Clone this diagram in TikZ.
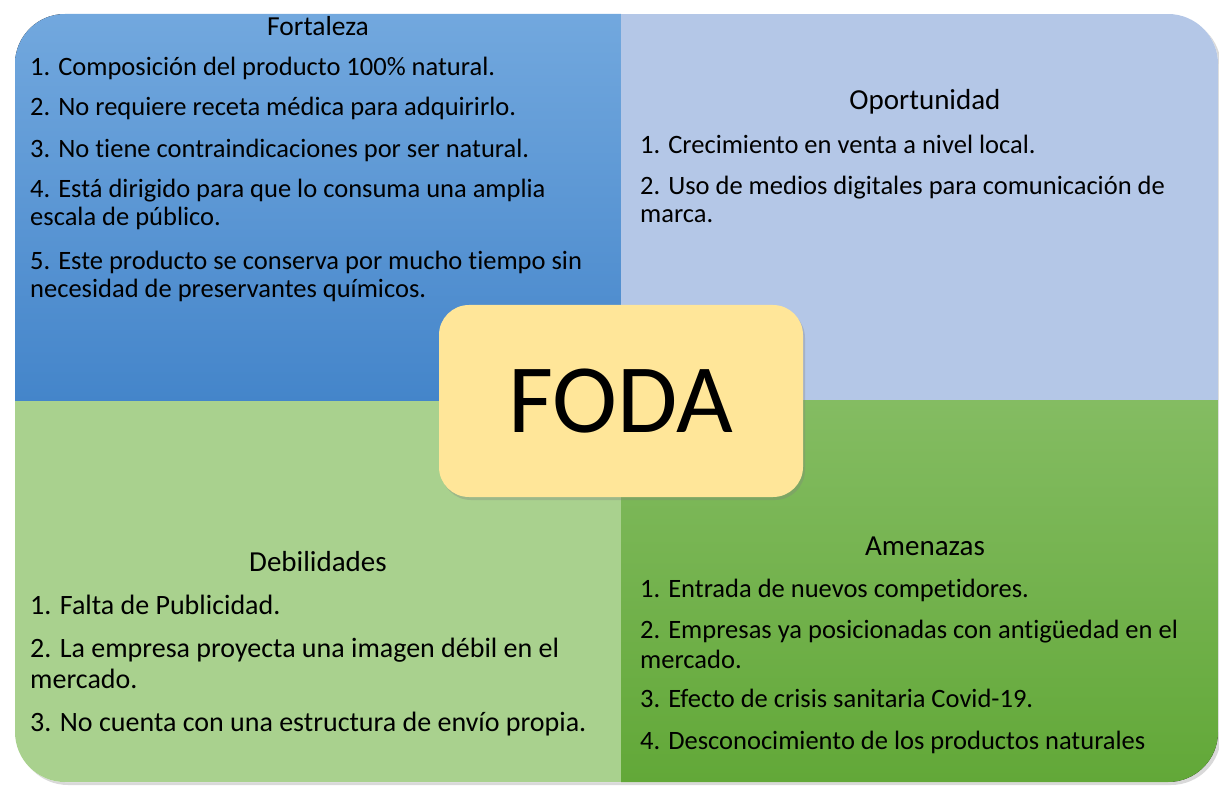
\documentclass[tikz,border=0pt]{standalone}
\usepackage{fontspec}
\setmainfont[Ligatures=NoCommon]{Carlito}
\usepackage{xcolor}
\usetikzlibrary{positioning,shadows}
\definecolor{fortTop}{HTML}{72A8DE}
\definecolor{fortBot}{HTML}{4485CA}
\definecolor{oport}{HTML}{B4C7E7}
\definecolor{debil}{HTML}{A9D18E}
\definecolor{amenTop}{HTML}{84BC62}
\definecolor{amenBot}{HTML}{62A838}
\definecolor{coreyellow}{HTML}{FFE699}

\begin{document}
\begin{tikzpicture}[
  x=1pt,y=-1pt,
  font=\fontsize{26.5}{28}\selectfont,
  title/.style={anchor=base,inner sep=0pt,font=\fontsize{29}{32}\selectfont},
  item/.style={anchor=base west,align=left,inner sep=0pt},
  bigitem/.style={item,font=\fontsize{28}{31}\selectfont},
  core/.style={fill=coreyellow,rounded corners=30pt,minimum width=364pt,minimum height=192pt,
    font=\fontsize{98}{98}\selectfont,drop shadow={shadow xshift=2pt,shadow yshift=-3pt,opacity=.3}}
]
\useasboundingbox (0,0) rectangle (1219,786);
% marco exterior con sombra
\path[rounded corners=50pt,fill=white,drop shadow={shadow xshift=3pt,shadow yshift=-3pt,opacity=.3}] (15,14) rectangle (1218,782);
\begin{scope}
  \clip[rounded corners=50pt] (15,14) rectangle (1218,782);
  \fill[top color=fortTop,bottom color=fortBot] (15,14) rectangle (621,401);
  \fill[oport] (621,14) rectangle (1218,401);
  \fill[debil] (15,401) rectangle (621,782);
  \fill[top color=amenTop,bottom color=amenBot] (621,401) rectangle (1218,782);
\end{scope}

% Fortaleza (multi-line nodes sit on their last baseline)
\node[title,font=\fontsize{27.5}{30}\selectfont] (fort) at (318,36) {Fortaleza};
\node[item] (fort1) at (30,76) {1. Composición del producto 100\% natural.};
\node[item] (fort2) at (30,116) {2. No requiere receta médica para adquirirlo.};
\node[item] (fort3) at (30,158) {3. No tiene contraindicaciones por ser natural.};
\node[item] (fort4) at (30,226) {4. Está dirigido para que lo consuma una amplia\\escala de público.};
\node[item] (fort5) at (30,298) {5. Este producto se conserva por mucho tiempo sin\\necesidad de preservantes químicos.};

% Oportunidad
\node[title] (oport) at (925,110) {Oportunidad};
\node[item] (oport1) at (640,154) {1. Crecimiento en venta a nivel local.};
\node[item] (oport2) at (640,223) {2. Uso de medios digitales para comunicación de\\marca.};

% Debilidades
\node[title] (debil) at (318,571) {Debilidades};
\node[bigitem] (debil1) at (30,614) {1. Falta de Publicidad.};
\node[bigitem] (debil2) at (30,688) {2. La empresa proyecta una imagen débil en el\\mercado.};
\node[bigitem] (debil3) at (30,731) {3. No cuenta con una estructura de envío propia.};

% Amenazas
\node[title] (amen) at (925,555) {Amenazas};
\node[item] (amen1) at (640,597) {1. Entrada de nuevos competidores.};
\node[item,font=\fontsize{26.5}{30}\selectfont] (amen2) at (640,668) {2. Empresas ya posicionadas con antigüedad en el\\mercado.};
\node[item] (amen3) at (640,707) {3. Efecto de crisis sanitaria Covid-19.};
\node[item] (amen4) at (640,749) {4. Desconocimiento de los productos naturales};

% centro
\node[core] (foda) at (621,401) {FODA};
\end{tikzpicture}
\end{document}
